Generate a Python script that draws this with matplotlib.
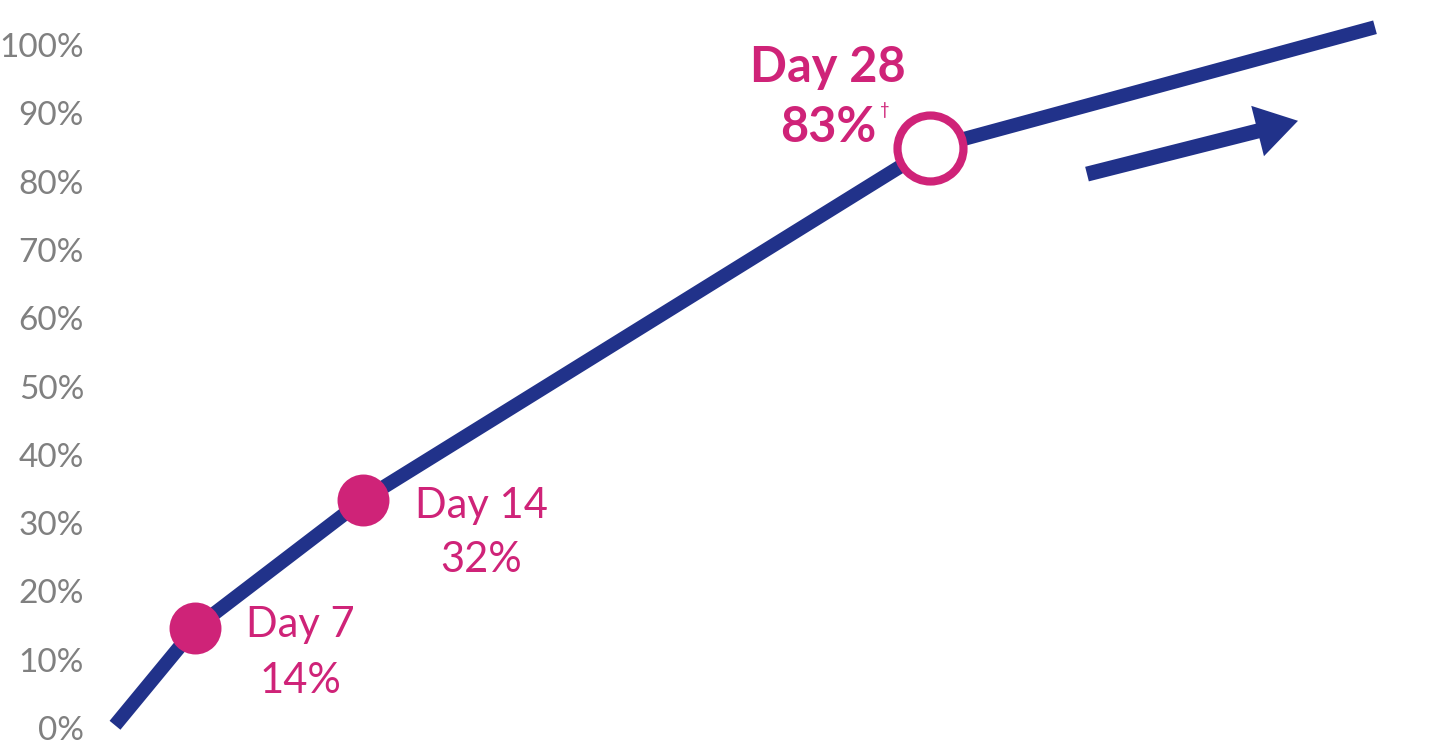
import matplotlib.pyplot as plt

# data (x = position along the curve, y = percent)
curve_x = [0.0, 0.80, 2.48, 8.15, 12.60]
curve_y = [0.4, 14.6, 33.4, 84.9, 102.6]

point_x = [0.80, 2.48]
point_y = [14.6, 33.4]
point_days = ["Day 7", "Day 14"]
point_pcts = ["14%", "32%"]

open_x = 8.15
open_y = 84.9
open_day = "Day 28"
open_pct = "83%"

arrow_from = (9.72, 81.1)
arrow_to = (11.83, 88.9)

yticks = [0, 10, 20, 30, 40, 50, 60, 70, 80, 90, 100]

navy = "#21328A"
magenta = "#CF2378"
grey = "#808080"

plt.rcParams["font.family"] = ["Lato", "DejaVu Sans"]

fig = plt.figure(figsize=(14.36, 7.40), dpi=100)
ax = fig.add_axes([100 / 1436, 0, 1336 / 1436, 1])
ax.set_xlim(-0.15, 13.21)
ax.set_ylim(-1.757, 106.59)

ax.plot(curve_x, curve_y, color=navy, lw=10.1,
        solid_capstyle="butt", solid_joinstyle="round", zorder=2)

ax.plot(point_x, point_y, "o", ms=37.4, color=magenta, mec="none", zorder=3)
ax.plot([open_x], [open_y], "o", ms=47.5, mfc="white", mec=magenta,
        mew=5.9, zorder=3)

# labels for the filled points
offs = [(105, -9, -65), (118, -18, -72)]
for x, y, d, p, (dx, dy1, dy2) in zip(point_x, point_y, point_days, point_pcts, offs):
    ax.annotate(d, (x, y), xytext=(dx, dy1), textcoords="offset pixels",
                ha="center", va="baseline", fontsize=30, color=magenta)
    ax.annotate(p, (x, y), xytext=(dx, dy2), textcoords="offset pixels",
                ha="center", va="baseline", fontsize=30, color=magenta)

# Day 28 label (bold)
ax.annotate(open_day, (open_x, open_y), xytext=(-102, 66), textcoords="offset pixels",
            ha="center", va="baseline", fontsize=35, fontweight="bold", color=magenta)
ax.annotate(open_pct, (open_x, open_y), xytext=(-102, 6), textcoords="offset pixels",
            ha="center", va="baseline", fontsize=35, fontweight="bold", color=magenta)
ax.annotate("\u2020", (open_x, open_y), xytext=(-50, 46), textcoords="offset pixels",
            ha="left", va="top", fontsize=12, color=magenta)

ax.annotate("", xy=arrow_to, xytext=arrow_from,
            arrowprops=dict(arrowstyle="simple,head_length=30,head_width=37.4,tail_width=10.8",
                            mutation_scale=1, fc=navy, ec="none", lw=0,
                            shrinkA=0, shrinkB=0))

ax.set_yticks(yticks)
ax.set_yticklabels([f"{v}%" for v in yticks])
ax.tick_params(axis="y", length=0, pad=11.5, labelsize=24, labelcolor=grey)
ax.set_xticks([])
for s in ax.spines.values():
    s.set_visible(False)

fig.savefig("out.png", dpi=100)
